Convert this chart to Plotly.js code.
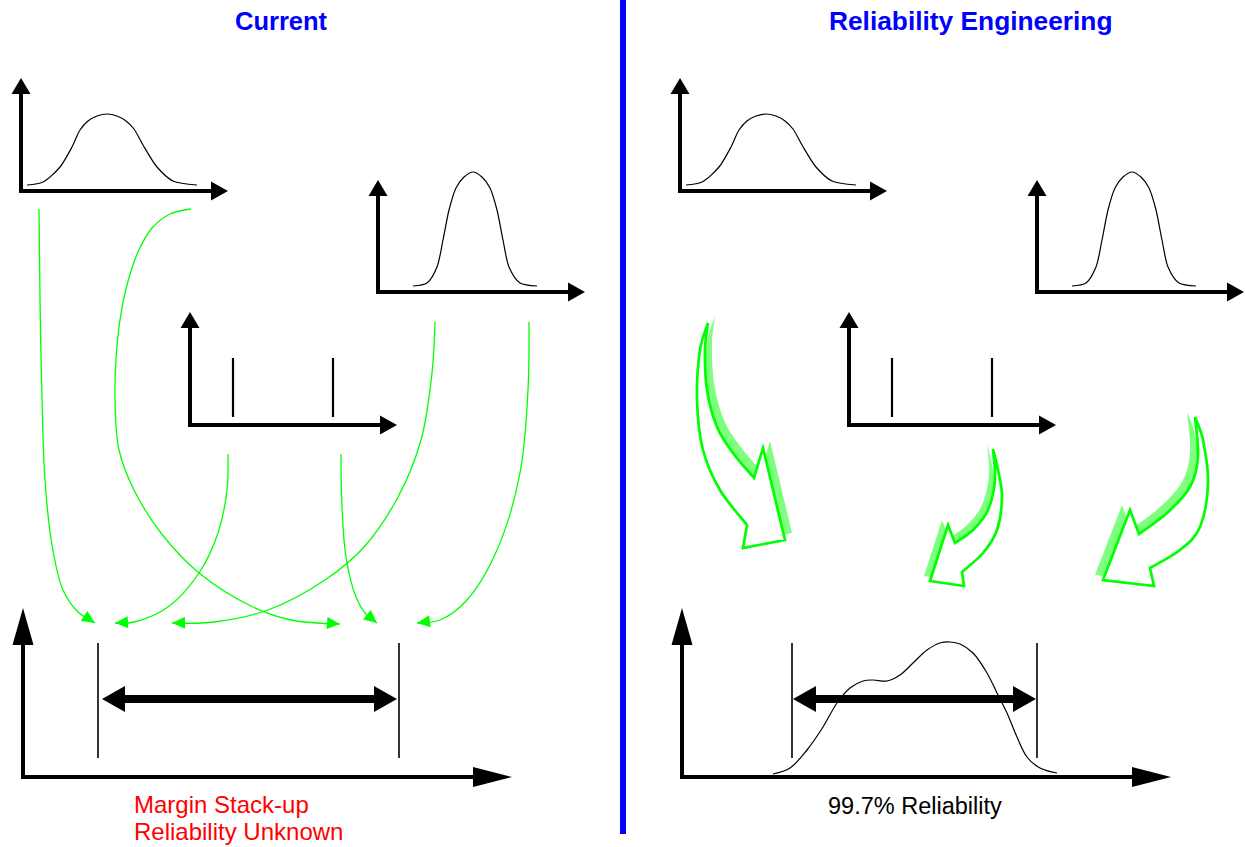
<!DOCTYPE html>
<html><head><meta charset="utf-8">
<script src="https://cdn.plot.ly/plotly-3.0.1.min.js"></script>
<style>html,body{margin:0;padding:0;background:#fff}#chart{width:1245px;height:847px}</style>
</head><body><div id="chart"></div>
<script>
// ================= DATA =================
const panelTitles = ["Current", "Reliability Engineering"];
const panelTitleX = [281, 970];
const panelShift = 659;           // right panel repeats the left inputs

// wide input distribution (top-left small chart)
const wideBellX = [27, 43, 60, 72, 80, 88, 97, 107, 117, 126, 134, 143, 157, 173, 197];
const wideBellY = [185, 182, 167, 147, 130, 121, 116, 114, 116, 121, 129, 145, 167, 181, 185];
// narrow input distribution (top-right small chart)
const narrowBellX = [413, 427, 437, 443, 449, 456, 464, 473, 482, 490, 497, 503, 509, 520, 537];
const narrowBellY = [286, 283, 267, 240, 210, 188, 177, 172, 177, 188, 210, 240, 267, 283, 286];
// two discrete input values (middle small chart)
const discreteX = [233, 333];
const discreteY = [358, 417];

// small axis frames: origin x, origin y, x-arrow tip, y-arrow tip
const frameOx = [21, 378, 190];
const frameOy = [191, 292, 425];
const frameXtip = [228, 585, 397];
const frameYtip = [78, 180, 312];

// output frame
const outOx = 23, outOy = 777, outXtip = 512, outYtip = 608;
// margin limits, current vs reliability engineering
const limitsCurrent = [98, 399];
const limitsRE = [792, 1037];
const limitsY = [643, 758];
const spanY = 699;

// resulting distribution (right output chart)
const resultX = [773, 790, 807, 823, 837, 850, 863, 873, 887, 900, 913, 927, 940, 950, 960, 973, 987, 997, 1007, 1017, 1027, 1040, 1057];
const resultY = [774, 768, 750, 727, 703, 688, 681, 680, 681, 675, 663, 650, 643, 642, 644, 653, 673, 693, 713, 737, 757, 768, 773];

// green stack-up links (current method)
const linksX = [
  [39, 40, 42, 45, 52, 63, 78, 95],
  [191, 170, 152, 138, 127, 120, 116, 115, 119, 134, 161, 199, 253, 291, 340],
  [228, 227, 218, 199, 168, 134, 115],
  [341, 342, 346, 356, 366, 377],
  [435, 432, 421, 398, 364, 325, 268, 214, 172],
  [529, 528, 520, 497, 467, 440, 417]
];
const linksY = [
  [209, 300, 400, 480, 545, 590, 612, 623],
  [209, 214, 228, 252, 285, 320, 360, 400, 450, 490, 533, 573, 607, 620, 624],
  [454, 490, 533, 573, 607, 622, 623],
  [454, 507, 557, 597, 614, 623],
  [322, 373, 440, 497, 547, 580, 610, 622, 623],
  [322, 390, 473, 550, 600, 620, 623]
];

// big hollow arrows (reliability engineering): outer edge, head, inner edge
const bigArrowOuter = [
  [[708,323],[700,350],[697,400],[703,450],[720,490],[747,525]],
  [[993,449],[998,470],[1002,497],[997,530],[983,553],[962,572]],
  [[1195,417],[1203,440],[1208,483],[1200,527],[1180,550],[1150,568]]
];
const bigArrowHead = [
  [[743,548],[785,540],[763,448],[754,478]],
  [[964,586],[930,581],[948,525],[955,543]],
  [[1154,586],[1103,580],[1130,510],[1139,534]]
];
const bigArrowInner = [
  [[754,478],[733,453],[717,427],[707,390],[705,350],[708,323]],
  [[955,543],[973,530],[988,510],[995,480],[993,449]],
  [[1139,534],[1167,513],[1190,487],[1198,457],[1195,417]]
];
const bigArrowShadow = [[7,-7],[-6,-5],[-8,-5]];

const labelCurrent = ["Margin Stack-up", "Reliability Unknown"];
const labelRE = "99.7% Reliability";

// ================= DRAWING =================
const BLACK = '#000000', GREEN = '#00FF00', BLUE = '#0000FF', RED = '#FF0000';
const FONT = 'Liberation Sans, Arial, Helvetica, sans-serif';
const shapes = [];
const traces = [];

function tri(tx, ty, dx, dy, len, wid) {
  const L = Math.hypot(dx, dy), ux = dx / L, uy = dy / L;
  const bx = tx - ux * len, by = ty - uy * len;
  const px = -uy * wid / 2, py = ux * wid / 2;
  return `M${tx},${ty} L${bx + px},${by + py} L${bx - px},${by - py} Z`;
}
function addTri(tx, ty, dx, dy, len, wid, color) {
  shapes.push({type: 'path', xref: 'x', yref: 'y', path: tri(tx, ty, dx, dy, len, wid),
    fillcolor: color, line: {width: 0}});
}
function addLine(x0, y0, x1, y1, w, color) {
  shapes.push({type: 'line', xref: 'x', yref: 'y', x0, y0, x1, y1, line: {color, width: w}});
}
function frame(ox, oy, xt, yt, hlx, hwx, hly, hwy, w) {
  addLine(ox - w / 2, oy, xt - hlx + 1, oy, w, BLACK);
  addLine(ox, oy, ox, yt + hly - 1, w, BLACK);
  addTri(xt, oy, 1, 0, hlx, hwx, BLACK);
  addTri(ox, yt, 0, -1, hly, hwy, BLACK);
}
function crSegs(pts) {
  let s = '';
  for (let i = 0; i < pts.length - 1; i++) {
    const p0 = pts[Math.max(i - 1, 0)], p1 = pts[i], p2 = pts[i + 1], p3 = pts[Math.min(i + 2, pts.length - 1)];
    const c1 = [p1[0] + (p2[0] - p0[0]) / 6, p1[1] + (p2[1] - p0[1]) / 6];
    const c2 = [p2[0] - (p3[0] - p1[0]) / 6, p2[1] - (p3[1] - p1[1]) / 6];
    s += ` C${c1[0]},${c1[1]} ${c2[0]},${c2[1]} ${p2[0]},${p2[1]}`;
  }
  return s;
}
function bigArrowPath(outer, head, inner, dx, dy) {
  const mv = p => [p[0] + dx, p[1] + dy];
  const o = outer.map(mv), h = head.map(mv), n = inner.map(mv);
  let s = `M${o[0][0]},${o[0][1]}` + crSegs(o);
  h.forEach(p => { s += ` L${p[0]},${p[1]}`; });
  s += crSegs(n) + ' Z';
  return s;
}
function curve(xs, ys, w, color, sm) {
  traces.push({type: 'scatter', mode: 'lines', x: xs, y: ys, hoverinfo: 'skip',
    line: {color, width: w, shape: 'spline', smoothing: sm || 1}});
}

// both panels: input charts
[0, panelShift].forEach(sh => {
  for (let i = 0; i < frameOx.length; i++) {
    frame(frameOx[i] + sh, frameOy[i], frameXtip[i] + sh, frameYtip[i], 17, 19, 16, 19, 4);
  }
  curve(wideBellX.map(v => v + sh), wideBellY, 1.2, BLACK, 0.8);
  curve(narrowBellX.map(v => v + sh), narrowBellY, 1.2, BLACK, 0.8);
  discreteX.forEach(x => addLine(x + sh, discreteY[0], x + sh, discreteY[1], 2.2, BLACK));
  frame(outOx + sh, outOy, outXtip + sh, outYtip, 39, 20, 37, 21, 4);
});

// output limits + span arrows
function span(lim, xl, xr) {
  lim.forEach(x => addLine(x, limitsY[0], x, limitsY[1], 1.6, BLACK));
  addLine(xl + 20, spanY, xr - 20, spanY, 8, BLACK);
  addTri(xl, spanY, -1, 0, 23, 26, BLACK);
  addTri(xr, spanY, 1, 0, 23, 26, BLACK);
}
span(limitsCurrent, limitsCurrent[0] + 4, limitsCurrent[1] - 2);
span(limitsRE, limitsRE[0] + 1, limitsRE[1] - 1);

curve(resultX, resultY, 1.2, BLACK);

// green links
for (let i = 0; i < linksX.length; i++) {
  const xs = linksX[i], ys = linksY[i], n = xs.length;
  curve(xs, ys, 1.3, GREEN);
  addTri(xs[n - 1], ys[n - 1], xs[n - 1] - xs[n - 2], ys[n - 1] - ys[n - 2], 13, 12, GREEN);
}

// big hollow arrows with soft shadow
for (let i = 0; i < bigArrowOuter.length; i++) {
  const [dx, dy] = bigArrowShadow[i];
  shapes.push({type: 'path', xref: 'x', yref: 'y',
    path: bigArrowPath(bigArrowOuter[i], bigArrowHead[i], bigArrowInner[i], dx, dy),
    fillcolor: 'rgba(0,255,0,0.5)', line: {width: 0}});
  shapes.push({type: 'path', xref: 'x', yref: 'y',
    path: bigArrowPath(bigArrowOuter[i], bigArrowHead[i], bigArrowInner[i], 0, 0),
    fillcolor: '#FFFFFF', line: {color: GREEN, width: 2.7}});
}

// divider
addLine(623, 0, 623, 834, 6, BLUE);

const annotations = [
  {text: '<b>' + panelTitles[0] + '</b>', x: panelTitleX[0], y: 21, size: 25.5},
  {text: '<b>' + panelTitles[1] + '</b>', x: panelTitleX[1], y: 21, size: 26.3}
].map(a => {
  const s = a.size; delete a.size;
  return Object.assign(a, {xref: 'x', yref: 'y', showarrow: false, xanchor: 'center', yanchor: 'middle',
    font: {family: FONT, size: s, color: BLUE}});
});
annotations.push({text: labelCurrent[0], x: 132, y: 804, xref: 'x', yref: 'y', showarrow: false,
  xanchor: 'left', yanchor: 'middle', font: {family: FONT, size: 24, color: RED}});
annotations.push({text: labelCurrent[1], x: 132, y: 831, xref: 'x', yref: 'y', showarrow: false,
  xanchor: 'left', yanchor: 'middle', font: {family: FONT, size: 24, color: RED}});
annotations.push({text: labelRE, x: 915, y: 806, xref: 'x', yref: 'y', showarrow: false,
  xanchor: 'center', yanchor: 'middle', font: {family: FONT, size: 23.5, color: BLACK}});

const layout = {
  width: 1245, height: 847, margin: {l: 0, r: 0, t: 0, b: 0, pad: 0},
  paper_bgcolor: '#FFFFFF', plot_bgcolor: '#FFFFFF', showlegend: false,
  xaxis: {range: [0, 1245], visible: false, fixedrange: true},
  yaxis: {range: [847, 0], visible: false, fixedrange: true},
  shapes, annotations
};
Plotly.newPlot('chart', traces, layout, {staticPlot: true, displayModeBar: false});
</script></body></html>
